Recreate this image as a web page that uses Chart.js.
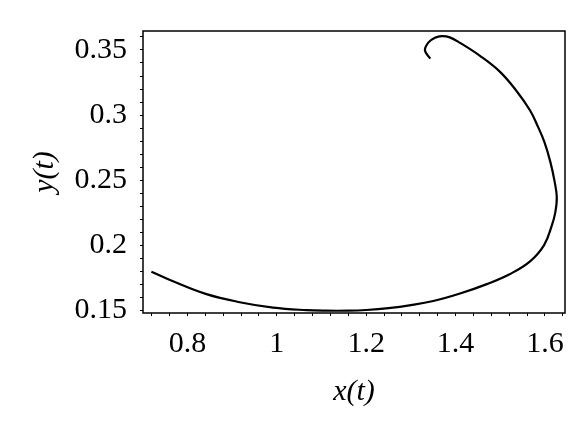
<!DOCTYPE html>
<html>
<head>
<meta charset="utf-8">
<script src="https://cdn.jsdelivr.net/npm/chart.js"></script>
<style>
  html, body { margin: 0; padding: 0; background: #fff; }
</style>
</head>
<body>
<canvas id="orbit" width="587" height="434"></canvas>
<script>
// Trayectoria (x(t), y(t)), desde el final del gancho hasta el extremo izquierdo
const xVals = [1.3434, 1.3315, 1.3389, 1.3539, 1.3689, 1.3870, 1.4099, 1.4547, 1.4995, 1.5368,
               1.5667, 1.5830, 1.5990, 1.6120, 1.6215, 1.6264, 1.6230, 1.6152, 1.5980, 1.5667,
               1.5219, 1.4700, 1.4099, 1.3500, 1.3000, 1.2500, 1.2000, 1.1600, 1.1100, 1.0665,
               0.9917, 0.9171, 0.8426, 0.7678, 0.7194];
const yVals = [0.3434, 0.3496, 0.3557, 0.3594, 0.3606, 0.3597, 0.3555, 0.3455, 0.3332, 0.3183,
               0.3035, 0.2920, 0.2790, 0.2640, 0.2490, 0.2366, 0.2250, 0.2150, 0.2000, 0.1875,
               0.1778, 0.1700, 0.1628, 0.1570, 0.1538, 0.1515, 0.1501, 0.1496, 0.1496, 0.1500,
               0.1519, 0.1561, 0.1623, 0.1722, 0.1796];

// Etiquetas de los ejes
const xTickLabels = ['0.8', '1', '1.2', '1.4', '1.6'];
const yTickLabels = ['0.15', '0.2', '0.25', '0.3', '0.35'];

// Rango visible de los ejes
const xRange = [0.7006, 1.6448];
const yRange = [0.1478, 0.3646];

const points = xVals.map((x, i) => ({ x: x, y: yVals[i] }));

// Marcas menores: cada 0.04 en x, cada 0.01 en y
function minorTicks(start, step, max) {
  const out = [];
  for (let k = 0; start + k * step <= max + 1e-9; k++) {
    out.push({ value: +(start + k * step).toFixed(4) });
  }
  return out;
}

function findLabel(list, v) {
  const hit = list.find(l => Math.abs(parseFloat(l) - v) < 1e-6);
  return hit === undefined ? '' : hit;
}

// Marco completo alrededor del área del gráfico
const framePlugin = {
  id: 'frame',
  afterDraw(chart) {
    const { ctx, chartArea } = chart;
    ctx.save();
    ctx.strokeStyle = '#000';
    ctx.lineWidth = 1.5;
    ctx.strokeRect(chartArea.left, chartArea.top,
                   chartArea.right - chartArea.left, chartArea.bottom - chartArea.top);
    ctx.restore();
  }
};

const serif = 'Liberation Serif, Times New Roman, serif';

new Chart(document.getElementById('orbit'), {
  type: 'scatter',
  data: {
    datasets: [{
      data: points,
      showLine: true,
      borderColor: '#000',
      borderWidth: 2.2,
      pointRadius: 0,
      tension: 0.4,
      fill: false
    }]
  },
  options: {
    responsive: false,
    animation: false,
    layout: { padding: { top: 21, right: 22, left: 0, bottom: 0 } },
    plugins: {
      legend: { display: false },
      tooltip: { enabled: false }
    },
    scales: {
      x: {
        type: 'linear',
        min: xRange[0],
        max: xRange[1],
        afterBuildTicks: s => { s.ticks = minorTicks(0.72, 0.04, xRange[1]); },
        afterFit: s => { s.height = 121; },
        grid: { drawOnChartArea: false, drawTicks: true, tickLength: 3, color: '#000' },
        border: { display: false },
        ticks: {
          autoSkip: false,
          maxRotation: 0,
          padding: 10,
          color: '#000',
          font: { family: serif, size: 30 },
          callback: v => findLabel(xTickLabels, v)
        },
        title: {
          display: true,
          text: 'x(t)',
          color: '#000',
          font: { family: serif, size: 30, style: 'italic' },
          padding: { top: 0, bottom: 24 }
        }
      },
      y: {
        type: 'linear',
        min: yRange[0],
        max: yRange[1],
        afterBuildTicks: s => { s.ticks = minorTicks(0.15, 0.01, yRange[1]); },
        afterFit: s => { s.width = 143; },
        grid: { drawOnChartArea: false, drawTicks: true, tickLength: 3, color: '#000' },
        border: { display: false },
        ticks: {
          autoSkip: false,
          padding: 13,
          color: '#000',
          font: { family: serif, size: 30 },
          callback: v => findLabel(yTickLabels, v)
        },
        title: {
          display: true,
          text: 'y(t)',
          color: '#000',
          font: { family: serif, size: 30, style: 'italic' },
          padding: { top: 27, bottom: 0 }
        }
      }
    }
  },
  plugins: [framePlugin]
});
</script>
</body>
</html>
